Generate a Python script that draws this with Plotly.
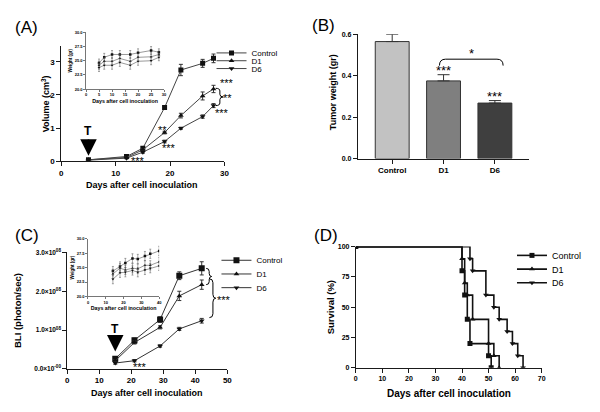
import plotly.graph_objects as go

FONT = "Liberation Sans"
W, H = 600, 412

groups = ["Control", "D1", "D6"]
symbols = ["square", "triangle-up", "triangle-down"]

# ---------------- Panel A: tumor volume ----------------
daysA = [5, 12, 15, 19, 22, 26, 28]
volA_control = [0.05, 0.15, 0.40, 1.62, 2.75, 2.95, 3.10]
volA_d1 = [0.05, 0.12, 0.35, 0.87, 1.38, 1.97, 2.18]
volA_d6 = [0.04, 0.10, 0.28, 0.60, 1.00, 1.35, 1.68]
errA_control = [0.01, 0.02, 0.04, 0.05, 0.17, 0.12, 0.13]
errA_d1 = [0.01, 0.02, 0.03, 0.04, 0.07, 0.12, 0.11]
errA_d6 = [0.01, 0.02, 0.03, 0.04, 0.03, 0.05, 0.06]

# inset A: body weight
daysA_in = [5, 7, 10, 13, 17, 20, 25, 28]
wA_control = [24.6, 25.6, 26.1, 26.1, 26.1, 26.4, 26.8, 26.5]
wA_d1 = [24.2, 24.9, 24.9, 25.4, 24.9, 25.6, 25.7, 26.1]
wA_d6 = [23.8, 24.2, 24.2, 24.7, 24.2, 24.9, 25.0, 25.6]
wA_err = [0.7, 0.7, 0.7, 0.7, 0.7, 0.7, 0.7, 0.6]

# ---------------- Panel B: tumor weight ----------------
catsB = ["Control", "D1", "D6"]
tumor_weight = [0.565, 0.375, 0.268]
tumor_err = [0.035, 0.030, 0.012]
bar_colors = ["#c2c2c2", "#7f7f7f", "#3f3f3f"]

# ---------------- Panel C: BLI ----------------
daysC = [15, 21, 29, 35, 42]
bli_control = [0.26, 0.74, 1.27, 2.40, 2.59]
bli_d1 = [0.21, 0.68, 1.07, 1.88, 2.17]
bli_d6 = [0.15, 0.21, 0.59, 1.03, 1.24]
errC_control = [0.04, 0.05, 0.07, 0.10, 0.17]
errC_d1 = [0.03, 0.04, 0.04, 0.12, 0.12]
errC_d6 = [0.03, 0.03, 0.03, 0.04, 0.06]
bli_ticks = [0, 1, 2, 3]
bli_ticktext = ["0.0×10<sup>-00</sup>", "1.0×10<sup>08</sup>", "2.0×10<sup>08</sup>", "3.0×10<sup>08</sup>"]

# inset C: body weight
daysC_in = [14, 18, 21, 25, 28, 32, 35, 40]
wC_control = [24.4, 25.2, 25.8, 26.6, 26.5, 27.0, 27.4, 27.9]
wC_d1 = [23.9, 24.9, 24.6, 24.9, 24.8, 25.4, 25.4, 26.0]
wC_d6 = [23.0, 24.1, 24.2, 24.5, 24.2, 24.6, 24.9, 25.3]
wC_err = [0.8, 0.8, 0.8, 0.8, 0.8, 0.8, 0.8, 0.8]

# ---------------- Panel D: survival ----------------
survD_control_x = [0, 40, 41, 42, 43, 50, 51]
survD_control_y = [100, 80, 60, 40, 20, 10, 0]
survD_d1_x = [0, 40, 41, 42, 44, 50, 52, 54]
survD_d1_y = [100, 90, 70, 60, 40, 20, 10, 0]
survD_d6_x = [0, 43, 44, 49, 52, 54, 57, 59, 61, 63]
survD_d6_y = [100, 90, 80, 60, 50, 40, 30, 20, 10, 0]


def px(x):
    return x / W


def py(y):
    return 1 - y / H


AX = "#1a1a1a"
INK = "#000000"


def axis(dom, rng, anchor, size=8, dtick=None, tickvals=None, ticktext=None, ticklen=4, lw=1, bold=True):
    d = dict(domain=dom, range=rng, anchor=anchor, showline=True, linecolor=AX, linewidth=lw,
             ticks="outside", ticklen=ticklen, tickwidth=lw, tickcolor=AX, showgrid=False,
             zeroline=False, tickfont=dict(size=size, family=FONT, color=INK,
                                           weight="bold" if bold else "normal"),
             fixedrange=True)
    if dtick is not None:
        d["dtick"] = dtick
        d["tick0"] = 0
    if tickvals is not None:
        d["tickmode"] = "array"
        d["tickvals"] = tickvals
        d["ticktext"] = ticktext
    return d


fig = go.Figure()

# ---- Panel A main
A_series = [(volA_control, errA_control), (volA_d1, errA_d1), (volA_d6, errA_d6)]
for i, (g, (v, e)) in enumerate(zip(groups, A_series)):
    fig.add_trace(go.Scatter(
        x=daysA, y=v, name=g, mode="lines+markers",
        error_y=dict(type="data", array=e, thickness=1, width=2, color="#333"),
        line=dict(color="#444", width=1), marker=dict(symbol=symbols[i], size=5, color="#111"),
        xaxis="x", yaxis="y", legend="legend" if i == 0 else f"legend{i + 1}"))

# ---- Panel A inset
for i, w in enumerate([wA_control, wA_d1, wA_d6]):
    fig.add_trace(go.Scatter(
        x=daysA_in, y=w, mode="lines+markers", showlegend=False,
        error_y=dict(type="data", array=wA_err, thickness=0.5, width=1, color="#555"),
        line=dict(color="#555", width=0.6), marker=dict(symbol=symbols[i], size=2.5, color="#111"),
        xaxis="x2", yaxis="y2"))

# ---- Panel B bars
fig.add_trace(go.Bar(
    x=catsB, y=tumor_weight, width=0.66, showlegend=False,
    marker=dict(color=bar_colors, line=dict(color="#333", width=1)),
    error_y=dict(type="data", array=tumor_err, arrayminus=[0] * 3, symmetric=False,
                 thickness=1, width=6, color="#333"),
    xaxis="x3", yaxis="y3"))

# ---- Panel C main
C_series = [(bli_control, errC_control), (bli_d1, errC_d1), (bli_d6, errC_d6)]
for i, (g, (v, e)) in enumerate(zip(groups, C_series)):
    fig.add_trace(go.Scatter(
        x=daysC, y=v, name=g, mode="lines+markers",
        error_y=dict(type="data", array=e, thickness=1, width=2, color="#333"),
        line=dict(color="#333", width=1), marker=dict(symbol=symbols[i], size=5 if i else 6, color="#111"),
        xaxis="x4", yaxis="y4", legend=f"legend{i + 4}"))

# ---- Panel C inset
for i, w in enumerate([wC_control, wC_d1, wC_d6]):
    fig.add_trace(go.Scatter(
        x=daysC_in, y=w, mode="lines+markers", showlegend=False,
        error_y=dict(type="data", array=wC_err, thickness=0.5, width=1, color="#555"),
        line=dict(color="#555", width=0.6), marker=dict(symbol=symbols[i], size=2.5, color="#111"),
        xaxis="x5", yaxis="y5"))

# ---- Panel D survival
D_series = [(survD_control_x, survD_control_y), (survD_d1_x, survD_d1_y), (survD_d6_x, survD_d6_y)]
for i, (g, (sx, sy)) in enumerate(zip(groups, D_series)):
    fig.add_trace(go.Scatter(
        x=sx, y=sy, name=g, mode="lines+markers", line_shape="hv",
        line=dict(color="#111", width=1.6), marker=dict(symbol=symbols[i], size=5, color="#111"),
        xaxis="x6", yaxis="y6", legend=f"legend{i + 7}"))

# ---------------- Layout axes ----------------
layout = dict(
    width=W, height=H, margin=dict(l=0, r=0, t=0, b=0),
    paper_bgcolor="white", plot_bgcolor="rgba(0,0,0,0)",
    font=dict(family=FONT, color=INK), showlegend=True,
    xaxis=axis([px(60), px(225)], [0, 30], "y", dtick=10),
    yaxis=axis([py(161), py(43)], [0, 3.47], "x", dtick=1),
    xaxis2=axis([px(85), px(164)], [0, 30], "y2", size=4, dtick=5, ticklen=2, lw=0.6),
    yaxis2=axis([py(87), py(29)], [20, 30], "x2", size=4, dtick=2.5, ticklen=2, lw=0.6),
    xaxis3=axis([px(360), px(533)], [-0.67, 2.66], "y3", size=8),
    yaxis3=axis([py(158), py(31)], [0, 0.6], "x3", size=7, dtick=0.2),
    xaxis4=axis([px(66), px(228)], [0, 50], "y4", dtick=10),
    yaxis4=axis([py(373), py(254)], [0, 3], "x4", size=6.5, tickvals=bli_ticks, ticktext=bli_ticktext),
    xaxis5=axis([px(87), px(159)], [0, 40], "y5", size=4, dtick=10, ticklen=2, lw=0.6),
    yaxis5=axis([py(299), py(240)], [20, 30], "x5", size=4, dtick=2.5, ticklen=2, lw=0.6),
    xaxis6=axis([px(358), px(546)], [0, 70], "y6", size=7, dtick=10),
    yaxis6=axis([py(372), py(248)], [0, 100], "x6", size=7, dtick=25),
)
layout["yaxis2"]["tickformat"] = ".1f"
layout["yaxis5"]["tickformat"] = ".1f"
layout["yaxis3"]["tickformat"] = ".1f"
layout["xaxis2"]["title"] = dict(text="Days after cell inoculation", font=dict(size=5.3, weight="bold"), standoff=2)
layout["yaxis2"]["title"] = dict(text="Weight (gr)", font=dict(size=4.5, weight="bold"), standoff=2)
layout["xaxis5"]["title"] = dict(text="Days after cell inoculation", font=dict(size=5.3, weight="bold"), standoff=2)
layout["yaxis5"]["title"] = dict(text="Weight (gr)", font=dict(size=4.5, weight="bold"), standoff=2)

# legends
leg_pos = {
    "legend": (252, 50, 8), "legend2": (252, 58, 8), "legend3": (252, 66, 8),
    "legend4": (257, 262, 8), "legend5": (257, 276, 8), "legend6": (257, 290, 8),
    "legend7": (556, 257, 9), "legend8": (556, 271, 9), "legend9": (556, 285, 9),
}
for k, (tx, ty, fs) in leg_pos.items():
    layout[k] = dict(x=px(tx - 40), y=py(ty), xanchor="left", yanchor="middle",
                     bgcolor="rgba(0,0,0,0)", borderwidth=0, itemwidth=30,
                     font=dict(size=fs, family=FONT, color=INK))

fig.update_layout(**layout)


def paper_text(x, y, text, size, bold=True, angle=0):
    fig.add_annotation(x=px(x), y=py(y), xref="paper", yref="paper", text=text, showarrow=False,
                       textangle=angle, xanchor="center", yanchor="middle",
                       font=dict(size=size, family=FONT, color=INK, weight="bold" if bold else "normal"))


# panel labels
paper_text(25, 24, "(A)", 17, bold=False)
paper_text(325, 22, "(B)", 17, bold=False)
paper_text(25, 237, "(C)", 17, bold=False)
paper_text(328, 237, "(D)", 17, bold=False)

# axis titles
paper_text(142, 185, "Days after cell inoculation", 9)
paper_text(44, 102, "Volume (cm<sup>3</sup>)", 9, angle=-90)
paper_text(335, 90, "Tumor weight (gr)", 9, angle=-90)
paper_text(147, 398, "Days after cell inoculation", 9)
paper_text(15, 313, "BLI (photon/sec)", 9.5, angle=-90)
paper_text(452, 398, "Days after cell inoculation", 10)
paper_text(332, 310, "Survival (%)", 9.5, angle=-90)


def star(x, y, text, xr, yr, size=11):
    fig.add_annotation(x=x, y=y, xref=xr, yref=yr, text=text, showarrow=False,
                       xanchor="center", yanchor="middle",
                       font=dict(size=size, family=FONT, color=INK))


# Panel A annotations (x in axis-domain fraction where the text sits past the axis end)
fig.add_annotation(x=daysA[0], y=0.17, ax=daysA[0], ay=0.92, xref="x", yref="y", axref="x", ayref="y",
                   text="T", showarrow=True, arrowhead=2, arrowsize=2.2, arrowwidth=1.5,
                   arrowcolor=INK, font=dict(size=12, family=FONT, color=INK, weight="bold"))
star(14.2, 0.02, "***", "x", "y")
star(18.7, 0.95, "**", "x", "y")
star(19.8, 0.42, "***", "x", "y")
star(30.5 / 30, 2.36, "***", "x domain", "y")
star(30.6 / 30, 1.9, "**", "x domain", "y")
star(29.6 / 30, 1.47, "***", "x domain", "y")


def vbrace(x0, ytop, ybot, w, r, xref, yref, ymid=None):
    if ymid is None:
        ymid = (ytop + ybot) / 2
    xm = x0 + w * 0.55
    path = (f"M {x0},{ytop} Q {xm},{ytop} {xm},{ytop - r} L {xm},{ymid + r} "
            f"Q {xm},{ymid} {x0 + w},{ymid} Q {xm},{ymid} {xm},{ymid - r} "
            f"L {xm},{ybot + r} Q {xm},{ybot} {x0},{ybot}")
    fig.add_shape(type="path", path=path, xref=xref, yref=yref, line=dict(color=INK, width=1))


vbrace(28.4, volA_d1[-1] + 0.02, volA_d6[-1], 1.4, 0.08, "x", "y")

# Panel B annotations
for i in (1, 2):
    star(i, tumor_weight[i] + tumor_err[i] + 0.02, "***", "x3", "y3", size=13)
bx0, bx1, by0, by1 = 0.92, 2.16, 0.449, 0.48
fig.add_shape(type="path", xref="x3", yref="y3", line=dict(color=INK, width=1),
              path=f"M {bx0},{by0} Q {bx0},{by1} {bx0 + 0.12},{by1} L {bx1 - 0.12},{by1} Q {bx1},{by1} {bx1},{by0}")
star((bx0 + bx1) / 2, 0.505, "*", "x3", "y3", size=13)

# Panel C annotations
fig.add_annotation(x=daysC[0], y=0.45, ax=daysC[0], ay=1.03, xref="x4", yref="y4", axref="x4", ayref="y4",
                   text="T", showarrow=True, arrowhead=2, arrowsize=2.2, arrowwidth=1.5,
                   arrowcolor=INK, font=dict(size=12, family=FONT, color=INK, weight="bold"))
star(22.8, 0.05, "***", "x4", "y4")
vbrace(43.4, bli_control[-1], bli_d1[-1], 1.7, 0.08, "x4", "y4")
vbrace(44.4, (bli_control[-1] + bli_d1[-1]) / 2 - 0.06, bli_d6[-1] + 0.08, 2.0, 0.1, "x4", "y4")
star(48.8, 1.78, "***", "x4", "y4")

fig.write_html("out.html", config={"displayModeBar": False, "staticPlot": True},
               post_script="document.body.style.margin='0';document.body.style.overflow='hidden';")
